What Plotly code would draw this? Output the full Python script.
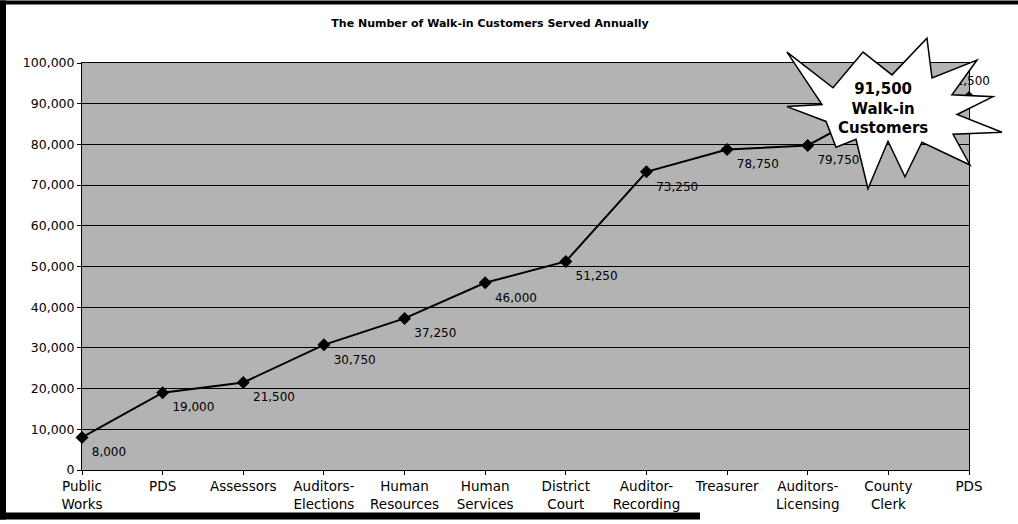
import plotly.graph_objects as go

# ---- data ----
categories = ["Public<br>Works", "PDS", "Assessors", "Auditors-<br>Elections",
              "Human<br>Resources", "Human<br>Services", "District<br>Court",
              "Auditor-<br>Recording", "Treasurer", "Auditors-<br>Licensing",
              "County<br>Clerk", "PDS"]
customers = [8000, 19000, 21500, 30750, 37250, 46000, 51250, 73250, 78750,
             79750, 90500, 91500]
hidden_label = [False] * 10 + [True, False]   # County Clerk label sits under the callout
y_ticks = [0, 10000, 20000, 30000, 40000, 50000, 60000, 70000, 80000, 90000, 100000]
title_text = "The Number of Walk-in Customers Served Annually"
callout_text = "91,500<br>Walk-in<br>Customers"

# ---- layout geometry (pixels) ----
W, H = 1018, 524
L, R, T, B = 82, 49, 63, 50
PW, PH = W - L - R, H - T - B


def px(x):
    return (x - L) / PW


def py(y):
    return (H - B - y) / PH


x_idx = list(range(len(categories)))
labels = ["" if h else f"{v:,}" for v, h in zip(customers, hidden_label)]
positions = ["bottom right"] * (len(customers) - 1) + ["top center"]

fig = go.Figure()
fig.add_trace(go.Scatter(
    x=x_idx, y=customers, mode="lines+markers",
    line=dict(color="black", width=2),
    marker=dict(symbol="diamond", size=10, color="black"),
    hoverinfo="skip", showlegend=False, cliponaxis=False))
fig.add_trace(go.Scatter(
    x=x_idx, y=customers, mode="markers+text", text=labels,
    textposition=positions,
    textfont=dict(family="DejaVu Sans", size=12, color="black"),
    marker=dict(size=14, color="rgba(0,0,0,0)"),
    hoverinfo="skip", showlegend=False, cliponaxis=False))

# starburst callout (decoration)
star_pts = [(787, 52), (833, 88), (863, 52), (892, 75), (927, 38), (932, 78),
            (977, 60), (952, 95), (993, 97), (957, 115), (1002, 133), (953, 135),
            (970, 166), (922, 143), (905, 178), (888, 142), (868, 190), (856, 140),
            (836, 148), (826, 122), (787, 107), (822, 105)]
path = "M " + " L ".join(f"{px(a):.4f},{py(b):.4f}" for a, b in star_pts) + " Z"

shapes = [
    dict(type="path", path=path, xref="paper", yref="paper",
         fillcolor="white", line=dict(color="black", width=1.5), layer="above"),
    # scan borders
    dict(type="rect", xref="paper", yref="paper", x0=px(0), x1=px(W), y0=py(0), y1=py(4),
         fillcolor="black", line=dict(width=0), layer="above"),
    dict(type="rect", xref="paper", yref="paper", x0=px(0), x1=px(6), y0=py(0), y1=py(H),
         fillcolor="black", line=dict(width=0), layer="above"),
    dict(type="rect", xref="paper", yref="paper", x0=px(0), x1=px(700), y0=py(517), y1=py(H),
         fillcolor="black", line=dict(width=0), layer="above"),
]

fig.update_layout(
    width=W, height=H, autosize=False,
    margin=dict(l=L, r=R, t=T, b=B),
    paper_bgcolor="white", plot_bgcolor="#b3b3b3",
    font=dict(family="DejaVu Sans", color="black"),
    title=dict(text=f"<b>{title_text}</b>", x=490 / W, y=1 - 23 / H,
               xanchor="center", yanchor="middle",
               font=dict(family="DejaVu Sans", size=11, color="black")),
    xaxis=dict(range=[0, len(categories) - 1], tickvals=x_idx, ticktext=categories,
               showgrid=False, zeroline=False, showline=True, linecolor="black",
               linewidth=1, mirror=True, ticks="outside", ticklen=4,
               tickcolor="black", tickfont=dict(family="DejaVu Sans", size=13.5)),
    yaxis=dict(range=[0, 100000], tickvals=y_ticks, tickformat=",",
               showgrid=True, gridcolor="black", gridwidth=1, zeroline=False,
               showline=True, linecolor="black", linewidth=1, mirror=True,
               ticks="outside", ticklen=4, tickcolor="black",
               tickfont=dict(family="DejaVu Sans", size=12.5)),
    shapes=shapes,
    annotations=[dict(text=f"<b>{callout_text}</b>", xref="paper", yref="paper",
                      x=px(883), y=py(109), xanchor="center", yanchor="middle",
                      showarrow=False, align="center",
                      font=dict(family="DejaVu Sans", size=15, color="black"))],
)

fig.write_html("out.html", config={"displayModeBar": False},
               post_script="document.body.style.margin='0';document.body.style.overflow='hidden';")
